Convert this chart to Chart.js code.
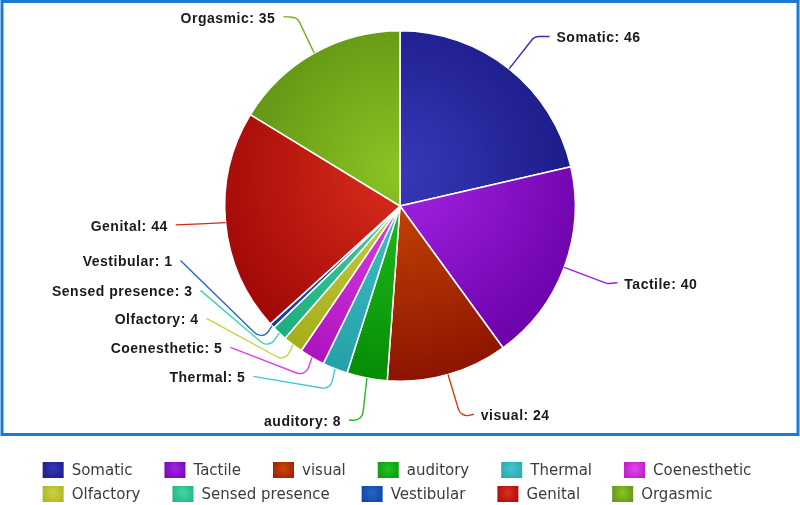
<!DOCTYPE html>
<html>
<head>
<meta charset="utf-8">
<script src="https://cdn.jsdelivr.net/npm/chart.js@4.4.1/dist/chart.umd.min.js"></script>
<style>
  html, body { margin: 0; padding: 0; background: #ffffff; }
  #wrap { width: 800px; height: 505px; }
</style>
</head>
<body>
<div id="wrap"><canvas id="c" width="800" height="505"></canvas></div>
<script>
// ---- data ----
const categories = ["Somatic", "Tactile", "visual", "auditory", "Thermal", "Coenesthetic",
                    "Olfactory", "Sensed presence", "Vestibular", "Genital", "Orgasmic"];
const values = [46, 40, 24, 8, 5, 5, 4, 3, 1, 44, 35];

// ---- styles ----
const lightColors = ["#3838b8", "#a424e4", "#cc4a04", "#22c422", "#46c6cc", "#e446ec",
                     "#ccd444", "#46d4a4", "#2466c4", "#dc2e1c", "#8cc424"];
const darkColors  = ["#15157e", "#6a00a8", "#8c1400", "#068c06", "#24a0a8", "#ac12bc",
                     "#a4ac1c", "#1cac7c", "#0c3c9c", "#9c0606", "#568810"];
const lineColors  = ["#3030b0", "#9a20dc", "#c44404", "#20bc20", "#44c8d0", "#e040e8",
                     "#c8d040", "#40d8a8", "#2866c8", "#d42a1a", "#7cb020"];

// label layout: text offset and curve corner offset relative to slice edge anchor
const labelLayout = [
  { side: "left",  tx: 47.4,  ty: -30.3, cx: 25.4,  cy: -32.3 },
  { side: "left",  tx: 60.2,  ty: 17.3,  cx: 43.2,  cy: 16.3 },
  { side: "left",  tx: 32.8,  ty: 41.7,  cx: 12.8,  cy: 42.7 },
  { side: "right", tx: -25.8, ty: 44.2,  cx: -4.8,  cy: 42.2 },
  { side: "right", tx: -89.7, ty: 9.6,   cx: -4.7,  cy: 20.6 },
  { side: "right", tx: -89.6, ty: -8.2,  cx: -6.6,  cy: 18.8 },
  { side: "right", tx: -94.4, ty: -24.3, cx: -7.4,  cy: 16.7 },
  { side: "right", tx: -86.8, ty: -40.7, cx: -10.8, cy: 15.3 },
  { side: "right", tx: -99.6, ty: -63.3, cx: -9.6,  cy: 14.7 },
  { side: "right", tx: -57.8, ty: 4.3,   cx: -24.8, cy: 1.3 },
  { side: "right", tx: -38.9, ty: -34.5, cx: -16.9, cy: -35.5 }
];

function sliceGradient(context) {
  const chart = context.chart;
  const area = chart.chartArea;
  const i = context.dataIndex;
  if (!area) return lightColors[i];
  const cx = (area.left + area.right) / 2;
  const cy = (area.top + area.bottom) / 2;
  const r = Math.min(area.right - area.left, area.bottom - area.top) / 2;
  const g = chart.ctx.createRadialGradient(cx, cy - 0.2 * r, 0, cx, cy - 0.2 * r, 1.2 * r);
  g.addColorStop(0, lightColors[i]);
  g.addColorStop(1, darkColors[i]);
  return g;
}

const framePlugin = {
  id: "frame",
  beforeDraw(chart) {
    const ctx = chart.ctx;
    ctx.save();
    ctx.fillStyle = "#ffffff";
    ctx.fillRect(0, 0, chart.width, chart.height);
    ctx.strokeStyle = "#1b79d1";
    ctx.lineWidth = 3;
    ctx.strokeRect(2, 1.5, 796, 433);
    ctx.restore();
  }
};

const labelPlugin = {
  id: "sliceLabels",
  afterDatasetsDraw(chart) {
    const ctx = chart.ctx;
    const meta = chart.getDatasetMeta(0);
    ctx.save();
    ctx.font = "bold 14px 'Liberation Sans', Arial, sans-serif";
    try { ctx.letterSpacing = "0.5px"; } catch (e) {}
    ctx.textBaseline = "middle";
    meta.data.forEach((arc, i) => {
      const p = arc.getProps(["x", "y", "startAngle", "endAngle", "outerRadius"], true);
      const mid = (p.startAngle + p.endAngle) / 2;
      const ax = p.x + Math.cos(mid) * p.outerRadius;
      const ay = p.y + Math.sin(mid) * p.outerRadius;
      const L = labelLayout[i];
      const tx = ax + L.tx, ty = ay + L.ty;
      const text = categories[i] + ": " + values[i];
      ctx.textAlign = L.side;
      ctx.fillStyle = "#1a1a1a";
      ctx.fillText(text, tx, ty);
      const sx = L.side === "left" ? tx - 7 : tx + 8;
      const sy = ty - 2;
      ctx.beginPath();
      ctx.moveTo(sx, sy);
      ctx.arcTo(ax + L.cx, ay + L.cy, ax, ay, 9);
      ctx.lineTo(ax, ay);
      ctx.strokeStyle = lineColors[i];
      ctx.lineWidth = 1.4;
      ctx.stroke();
    });
    ctx.restore();
  }
};

const legendPlugin = {
  id: "customLegend",
  afterDraw(chart) {
    const ctx = chart.ctx;
    ctx.save();
    ctx.font = "15px 'DejaVu Sans', sans-serif";
    ctx.textBaseline = "middle";
    ctx.textAlign = "left";
    const boxW = 21, boxH = 16, boxGap = 8, itemGap = 32, maxW = 780;
    const rows = [[]];
    let w = 0;
    categories.forEach((c, i) => {
      const iw = boxW + boxGap + ctx.measureText(c).width;
      const add = (rows[rows.length - 1].length ? itemGap : 0) + iw;
      if (w + add > maxW && rows[rows.length - 1].length) {
        rows.push([]);
        rows[rows.length - 1].push({ i, iw }); w = iw;
      } else {
        rows[rows.length - 1].push({ i, iw }); w += add;
      }
    });
    const rowWidths = rows.map(r => r.reduce((s, it, k) => s + it.iw + (k ? itemGap : 0), 0));
    const left = (chart.width - Math.max(...rowWidths)) / 2 - 3;
    const rowY = [470, 494];
    rows.forEach((r, ri) => {
      let x = left;
      const y = rowY[ri];
      r.forEach(it => {
        const g = ctx.createRadialGradient(x + boxW / 2, y - 2, 0, x + boxW / 2, y, boxW * 0.75);
        g.addColorStop(0, lightColors[it.i]);
        g.addColorStop(1, darkColors[it.i]);
        ctx.fillStyle = g;
        ctx.fillRect(x, y - boxH / 2, boxW, boxH);
        ctx.fillStyle = "#3c3c3c";
        ctx.fillText(categories[it.i], x + boxW + boxGap, y + 1);
        x += it.iw + itemGap;
      });
    });
    ctx.restore();
  }
};

new Chart(document.getElementById("c"), {
  type: "pie",
  data: {
    labels: categories,
    datasets: [{
      data: values,
      backgroundColor: sliceGradient,
      borderColor: "#ffffff",
      borderWidth: 1.5
    }]
  },
  options: {
    responsive: false,
    devicePixelRatio: 1,
    animation: false,
    layout: { padding: { top: 30, bottom: 123, left: 224, right: 224 } },
    plugins: {
      legend: { display: false },
      tooltip: { enabled: false }
    }
  },
  plugins: [framePlugin, labelPlugin, legendPlugin]
});
</script>
</body>
</html>
